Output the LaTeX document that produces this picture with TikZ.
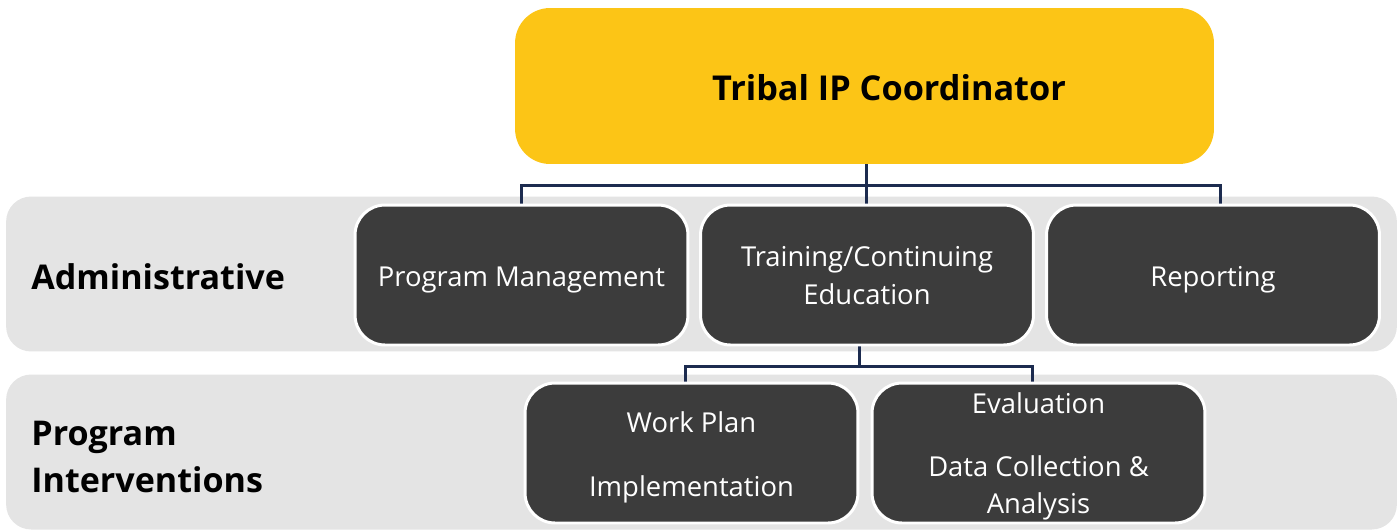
\documentclass[tikz,border=0pt]{standalone}
\usepackage{fontspec}
\setmainfont{Open Sans}
\definecolor{bandgray}{HTML}{E4E4E4}
\definecolor{boxgray}{HTML}{3C3C3C}
\definecolor{gold}{HTML}{FCC516}
\definecolor{navy}{HTML}{1C2B4F}

\begin{document}
\begin{tikzpicture}[
       x=0.02cm, y=-0.02cm,
       band/.style={
         fill=bandgray,
         rounded corners=0.5cm,
         minimum width=27.82cm,
         minimum height=3.1cm,
         inner sep=0pt
       },
       chef/.style={
         fill=gold,
         rounded corners=0.7cm,
         minimum width=13.98cm,
         minimum height=3.12cm,
         inner sep=0pt
       },
       tache/.style={
         fill=boxgray,
         draw=white,
         line width=1.7pt,
         rounded corners=0.6cm,
         minimum width=6.66cm,
         minimum height=2.8cm,
         inner sep=1pt,
         text=white,
         align=center,
         text depth=0pt,
         text height=#1,
         font=\fontsize{15.6}{21.5}\selectfont
       },
       tache/.default=13.6pt,
       rang/.style={
         anchor=west,
         align=left,
         inner sep=0pt,
         font=\bfseries\fontsize{19.4}{26.6}\selectfont
       },
       lien/.style={
         draw=navy,
         line width=1.7pt
       }
     ]

       \useasboundingbox (0,0) rectangle (1399,529);

       % bandes
       \node (b1) at (701.5,274) [band]{};
       \node (b2) at (701.5,452) [band]{};

       \node (adm) at (31,277) [rang]{Administrative};
       \node (pint) at (31,457) [rang]{Program\\Interventions};

       % coordinateur
       \node (coord) at (864.5,86) [chef]{};
       \node (titre) at (889,88) [font=\bfseries\fontsize{19.5}{24}\selectfont]{Tribal IP Coordinator};

       \coordinate (hubA) at (866,185);
       \coordinate (hubB) at (859,366);

       \draw[lien] (hubA |- coord.south) -- (hubA) -- (hubA |- 0,205);
       \draw[lien] (521,205) |- (hubA) -| (1220,205);

       \draw[lien] (hubB |- 0,345) -- (hubB);
       \draw[lien] (685,383) |- (hubB) -| (1032,383);

       % taches
       \node (pm) at (521.5,275) [tache]{Program Management};
       \node (tc) at (867,275) [tache=33.5pt]{Training/Continuing\\Education};
       \node (rep) at (1213,275) [tache]{Reporting};

       \node (wp) at (691.5,453) [tache=49.3pt]{Work Plan\\[5.2mm]Implementation};
       \node (ev) at (1038.5,453) [tache=69.2pt]{Evaluation\\[4.9mm]Data Collection \&\\Analysis};

\end{tikzpicture}
\end{document}
